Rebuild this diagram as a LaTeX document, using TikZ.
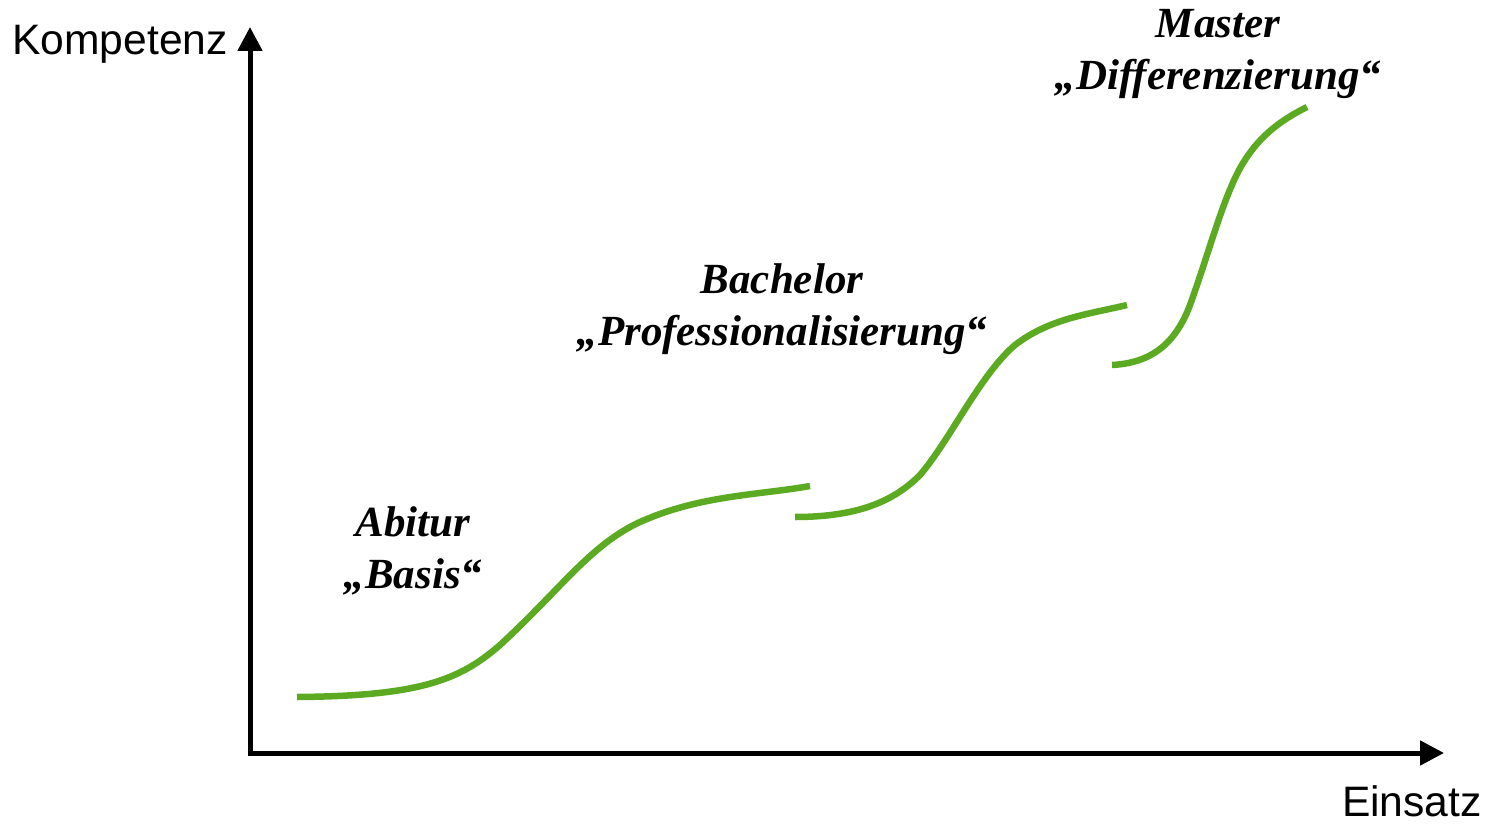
\documentclass[tikz,border=0pt]{standalone}
\usepackage{fontspec}
\setmainfont{Liberation Serif}
\newfontfamily\arialfont{Liberation Sans}
\usetikzlibrary{arrows.meta}
\definecolor{curvegreen}{RGB}{92,170,34}
\begin{document}
\begin{tikzpicture}[x=1pt,y=-1pt,
  axis/.style={line width=5pt,-{Triangle[length=24pt,width=24pt]}},
  curve/.style={line width=6.5pt,curvegreen},
  axislabel/.style={font=\arialfont\fontsize{42.6}{48}\selectfont,inner sep=0pt},
  phase/.style={font=\fontsize{43}{52}\selectfont\bfseries\itshape,align=center,inner sep=0pt}]
\useasboundingbox (0,0) rectangle (1489,824);
\coordinate (top) at (250,27);
\coordinate (origin) at (250,753);
\coordinate (right) at (1444,753);
\draw[axis] (origin) -- (top);
\draw[axis] (247.5,753) -- (right);
\node[axislabel,anchor=base east] (kompetenz) at (228,55) {Kompetenz};
\node[axislabel,anchor=base east] (einsatz) at (1482,816) {Einsatz};
\draw[curve] (297,697) .. controls (420,696) and (460,680) .. (500,645)
  .. controls (560,590) and (590,545) .. (640,522)
  .. controls (700,495) and (760,495) .. (810,486);
\draw[curve] (795,517) .. controls (860,517) and (895,500) .. (920,475)
  .. controls (950,440) and (980,375) .. (1015,345)
  .. controls (1050,318) and (1090,314) .. (1127,305);
\draw[curve] (1112,365) .. controls (1150,363) and (1175,345) .. (1190,305)
  .. controls (1210,250) and (1225,190) .. (1245,160)
  .. controls (1262,133) and (1285,118) .. (1307,107);
\node[phase] (abitur) at (413,551) {Abitur\\„Basis“};
\node[phase] (bachelor) at (782,309) {Bachelor\\„Professionalisierung“};
\node[phase] (master) at (1218,54) {Master\\„Differenzierung“};
\end{tikzpicture}
\end{document}
